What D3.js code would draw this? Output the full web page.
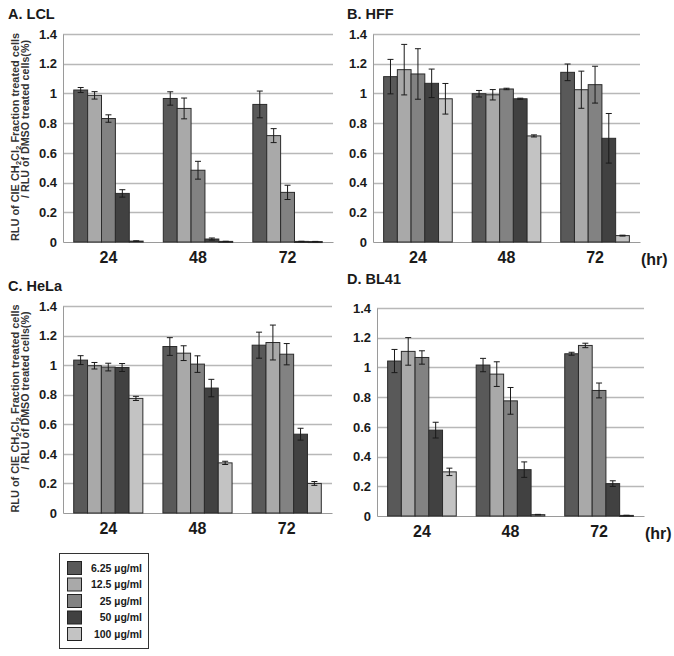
<!DOCTYPE html>
<html>
<head>
<meta charset="utf-8">
<script src="https://cdn.jsdelivr.net/npm/d3@7"></script>
<style>
  html, body { margin: 0; padding: 0; background: #fff; }
  svg { display: block; font-family: "Liberation Sans", Arial, sans-serif; }
</style>
</head>
<body>
<svg id="chart" width="674" height="656"></svg>
<script>
// ---------------- DATA ----------------
const categories = ["24", "48", "72"];
const seriesNames = ["6.25 µg/ml", "12.5 µg/ml", "25 µg/ml", "50 µg/ml", "100 µg/ml"];
const seriesColors = ["#595959", "#a9a9a9", "#828282", "#414141", "#c3c3c3"];
const yTicks = [0, 0.2, 0.4, 0.6, 0.8, 1.0, 1.2, 1.4];
const yTickLabels = ["0", "0.2", "0.4", "0.6", "0.8", "1", "1.2", "1.4"];

// values[category][series]
const lclValues = [
  [1.023, 0.987, 0.831, 0.327, 0.006],
  [0.966, 0.899, 0.483, 0.020, 0.004],
  [0.926, 0.716, 0.334, 0.004, 0.003]
];
const lclErrors = [
  [0.017, 0.025, 0.025, 0.025, 0.002],
  [0.045, 0.070, 0.060, 0.007, 0.001],
  [0.090, 0.047, 0.048, 0.001, 0.001]
];
const hffValues = [
  [1.113, 1.160, 1.131, 1.068, 0.964],
  [0.998, 0.991, 1.030, 0.964, 0.714],
  [1.142, 1.025, 1.059, 0.698, 0.043]
];
const hffErrors = [
  [0.116, 0.170, 0.170, 0.096, 0.103],
  [0.022, 0.035, 0.005, 0.004, 0.007],
  [0.056, 0.125, 0.124, 0.167, 0.003]
];
const helaValues = [
  [1.034, 0.996, 0.987, 0.984, 0.775],
  [1.126, 1.081, 1.007, 0.845, 0.339],
  [1.135, 1.153, 1.074, 0.533, 0.200]
];
const helaErrors = [
  [0.030, 0.022, 0.026, 0.027, 0.014],
  [0.060, 0.050, 0.056, 0.059, 0.011],
  [0.088, 0.118, 0.072, 0.040, 0.013]
];
const bl41Values = [
  [1.043, 1.108, 1.067, 0.578, 0.297],
  [1.016, 0.955, 0.775, 0.312, 0.009],
  [1.092, 1.148, 0.845, 0.218, 0.004]
];
const bl41Errors = [
  [0.078, 0.093, 0.045, 0.053, 0.025],
  [0.045, 0.083, 0.090, 0.052, 0.002],
  [0.010, 0.015, 0.050, 0.019, 0.001]
];
const panelTitles = ["A. LCL", "B. HFF", "C. HeLa", "D. BL41"];
const xUnitLabel = "(hr)";

// ---------------- LAYOUT ----------------
const svg = d3.select("#chart");

const panels = [
  { title: panelTitles[0], values: lclValues, errors: lclErrors, x0: 63, x1: 333, y0: 242, y1: 34, tx: 8, ty: 19, yTitle: true, hr: false },
  { title: panelTitles[1], values: hffValues, errors: hffErrors, x0: 373, x1: 640, y0: 242, y1: 34, tx: 347, ty: 19, yTitle: false, hr: true },
  { title: panelTitles[2], values: helaValues, errors: helaErrors, x0: 63, x1: 332, y0: 513, y1: 306, tx: 8, ty: 291, yTitle: true, hr: false },
  { title: panelTitles[3], values: bl41Values, errors: bl41Errors, x0: 377, x1: 644, y0: 516, y1: 308, tx: 347, ty: 284, yTitle: false, hr: true }
];

panels.forEach(p => {
  const g = svg.append("g");
  const x = d3.scaleBand().domain(categories).range([p.x0, p.x1]).paddingInner(0.225).paddingOuter(0.12);
  const xs = d3.scaleBand().domain(d3.range(seriesNames.length)).range([0, x.bandwidth()]).padding(0);
  const y = d3.scaleLinear().domain([0, 1.4]).range([p.y0, p.y1]);

  // title
  g.append("text").attr("x", p.tx).attr("y", p.ty)
    .attr("font-size", 14.5).attr("font-weight", "bold").attr("fill", "#1a1a1a")
    .text(p.title);

  // gridlines
  g.append("g").selectAll("line").data(yTicks.filter(t => t > 0)).join("line")
    .attr("x1", p.x0).attr("x2", p.x1)
    .attr("y1", d => Math.round(y(d)) + 0.5).attr("y2", d => Math.round(y(d)) + 0.5)
    .attr("stroke", "#b8b8b8").attr("stroke-width", 1.5);

  // y axis
  const yAxis = d3.axisLeft(y).tickValues(yTicks)
    .tickFormat((d, i) => yTickLabels[i]).tickSize(0).tickPadding(6);
  const ya = g.append("g").attr("transform", `translate(${p.x0},0)`).call(yAxis);
  ya.select(".domain").attr("stroke", "#9a9a9a").attr("stroke-width", 1);
  ya.selectAll("text").attr("font-size", 13).attr("font-weight", "bold").attr("fill", "#1a1a1a")
    .attr("font-family", "'Liberation Sans', Arial, sans-serif");

  // x axis baseline
  const xAxis = d3.axisBottom(x).tickSize(0).tickPadding(10);
  const xa = g.append("g").attr("transform", `translate(0,${p.y0})`).call(xAxis);
  xa.select(".domain").attr("stroke", "#9a9a9a").attr("stroke-width", 1.2);
  xa.selectAll("text").attr("font-size", 16).attr("font-weight", "bold").attr("fill", "#1a1a1a")
    .attr("font-family", "'Liberation Sans', Arial, sans-serif");

  // bars
  const groups = g.append("g").selectAll("g").data(categories).join("g")
    .attr("transform", d => `translate(${x(d)},0)`);
  groups.each(function(cat, ci) {
    const gg = d3.select(this);
    const rows = p.values[ci].map((v, si) => ({ v, e: p.errors[ci][si], si }));
    gg.selectAll("rect").data(rows).join("rect")
      .attr("x", d => xs(d.si))
      .attr("y", d => y(d.v))
      .attr("width", xs.bandwidth())
      .attr("height", d => Math.max(1, y(0) - y(d.v)))
      .attr("fill", d => seriesColors[d.si])
      .attr("stroke", "#2b2b2b").attr("stroke-width", 1);
    // error bars
    const eb = gg.selectAll("g.err").data(rows).join("g").attr("class", "err");
    const cx = d => xs(d.si) + xs.bandwidth() / 2;
    eb.append("line")
      .attr("x1", cx).attr("x2", cx)
      .attr("y1", d => y(d.v + d.e)).attr("y2", d => y(Math.max(0, d.v - d.e)))
      .attr("stroke", "#1a1a1a").attr("stroke-width", 1);
    eb.append("line")
      .attr("x1", d => cx(d) - 3).attr("x2", d => cx(d) + 3)
      .attr("y1", d => y(d.v + d.e)).attr("y2", d => y(d.v + d.e))
      .attr("stroke", "#1a1a1a").attr("stroke-width", 1);
    eb.append("line")
      .attr("x1", d => cx(d) - 3).attr("x2", d => cx(d) + 3)
      .attr("y1", d => y(Math.max(0, d.v - d.e))).attr("y2", d => y(Math.max(0, d.v - d.e)))
      .attr("stroke", "#1a1a1a").attr("stroke-width", 1);
  });

  // (hr)
  if (p.hr) {
    g.append("text").attr("x", p.x1 + 1).attr("y", p.y0 + 23)
      .attr("font-size", 16).attr("font-weight", "bold").attr("fill", "#1a1a1a")
      .text(xUnitLabel);
  }

  // y title
  if (p.yTitle) {
    const mid = (p.y0 + p.y1) / 2;
    const t1 = g.append("text")
      .attr("transform", `translate(19,${mid - 1}) rotate(-90)`)
      .attr("text-anchor", "middle").attr("font-size", 11).attr("font-weight", "bold").attr("fill", "#333")
      .attr("textLength", 208).attr("lengthAdjust", "spacingAndGlyphs");
    t1.append("tspan").text("RLU of CIE CH");
    t1.append("tspan").attr("font-size", 8).attr("dy", 2).text("2");
    t1.append("tspan").attr("dy", -2).text("Cl");
    t1.append("tspan").attr("font-size", 8).attr("dy", 2).text("2");
    t1.append("tspan").attr("dy", -2).text(" Fraction treated cells");
    g.append("text")
      .attr("transform", `translate(29,${mid - 19}) rotate(-90)`)
      .attr("text-anchor", "middle").attr("font-size", 11).attr("font-weight", "bold").attr("fill", "#333")
      .attr("textLength", 158).attr("lengthAdjust", "spacingAndGlyphs")
      .text("/ RLU of DMSO treated cells(%)");
  }
});

// ---------------- LEGEND ----------------
const lg = svg.append("g");
lg.append("rect").attr("x", 59.5).attr("y", 553.5).attr("width", 89).attr("height", 95)
  .attr("fill", "#fff").attr("stroke", "#333").attr("stroke-width", 1);
const ly = d3.scalePoint().domain(d3.range(seriesNames.length)).range([561, 627]);
const items = lg.selectAll("g.item").data(seriesNames).join("g").attr("class", "item")
  .attr("transform", (d, i) => `translate(0,${ly(i)})`);
items.append("rect").attr("x", 67.5).attr("y", 0.5).attr("width", 14).attr("height", 13)
  .attr("fill", (d, i) => seriesColors[i]).attr("stroke", "#222").attr("stroke-width", 1);
items.append("text").attr("x", 142).attr("y", 10.5).attr("text-anchor", "end")
  .attr("font-size", 10.5).attr("font-weight", "bold").attr("fill", "#1a1a1a")
  .text(d => d);
</script>
</body>
</html>
